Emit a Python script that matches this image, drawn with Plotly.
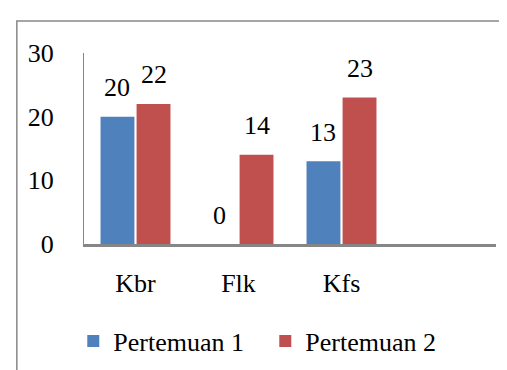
import plotly.graph_objects as go

categories = ["Kbr", "Flk", "Kfs"]
pertemuan1 = [20, 0, 13]
pertemuan2 = [22, 14, 23]
series_names = ["Pertemuan 1", "Pertemuan 2"]
colors = ["#4F81BD", "#C0504D"]
y_ticks = [0, 10, 20, 30]

FONT = "Liberation Serif"

fig = go.Figure()
for name, vals, col in zip(series_names, [pertemuan1, pertemuan2], colors):
    fig.add_trace(go.Bar(x=categories, y=vals, name=name, marker=dict(color=col, line=dict(width=0))))

annotations = []
for vals, shift in zip([pertemuan1, pertemuan2], [-19, 18]):
    for c, v in zip(categories, vals):
        annotations.append(dict(x=c, y=v, xref="x", yref="y", text=str(v), showarrow=False,
                                xshift=shift, yshift=29, yanchor="middle",
                                font=dict(family=FONT, size=26, color="#000")))

fig.update_layout(
    width=507, height=370,
    margin=dict(l=76, r=19, t=45, b=134),
    paper_bgcolor="white", plot_bgcolor="white",
    barmode="group", bargap=0.3, bargroupgap=0.06,
    font=dict(family=FONT, size=26, color="#000"),
    showlegend=True,
    legend=dict(orientation="h", x=0.44, xanchor="center", y=-0.508, yanchor="middle",
                font=dict(family=FONT, size=26), itemwidth=30, entrywidth=147,
                entrywidthmode="pixels", bgcolor="rgba(0,0,0,0)"),
    annotations=annotations,
    shapes=[dict(type="rect", xref="paper", yref="paper", x0=-0.163, x1=1.3, y0=-1.2, y1=1.1675,
                 line=dict(color="#888888", width=1.5), fillcolor="rgba(0,0,0,0)", layer="below")],
)
fig.update_xaxes(range=[-0.5, 3.5], showgrid=False, showline=True, linecolor="#868686", linewidth=3,
                 ticks="", ticklabelstandoff=14, tickfont=dict(family=FONT, size=26))
fig.update_yaxes(range=[0, 30], tickvals=y_ticks, showgrid=False, zeroline=False, showline=True,
                 linecolor="#868686", linewidth=1, ticks="", ticklabelstandoff=24,
                 tickfont=dict(family=FONT, size=26))

fig.write_html("out.html")
